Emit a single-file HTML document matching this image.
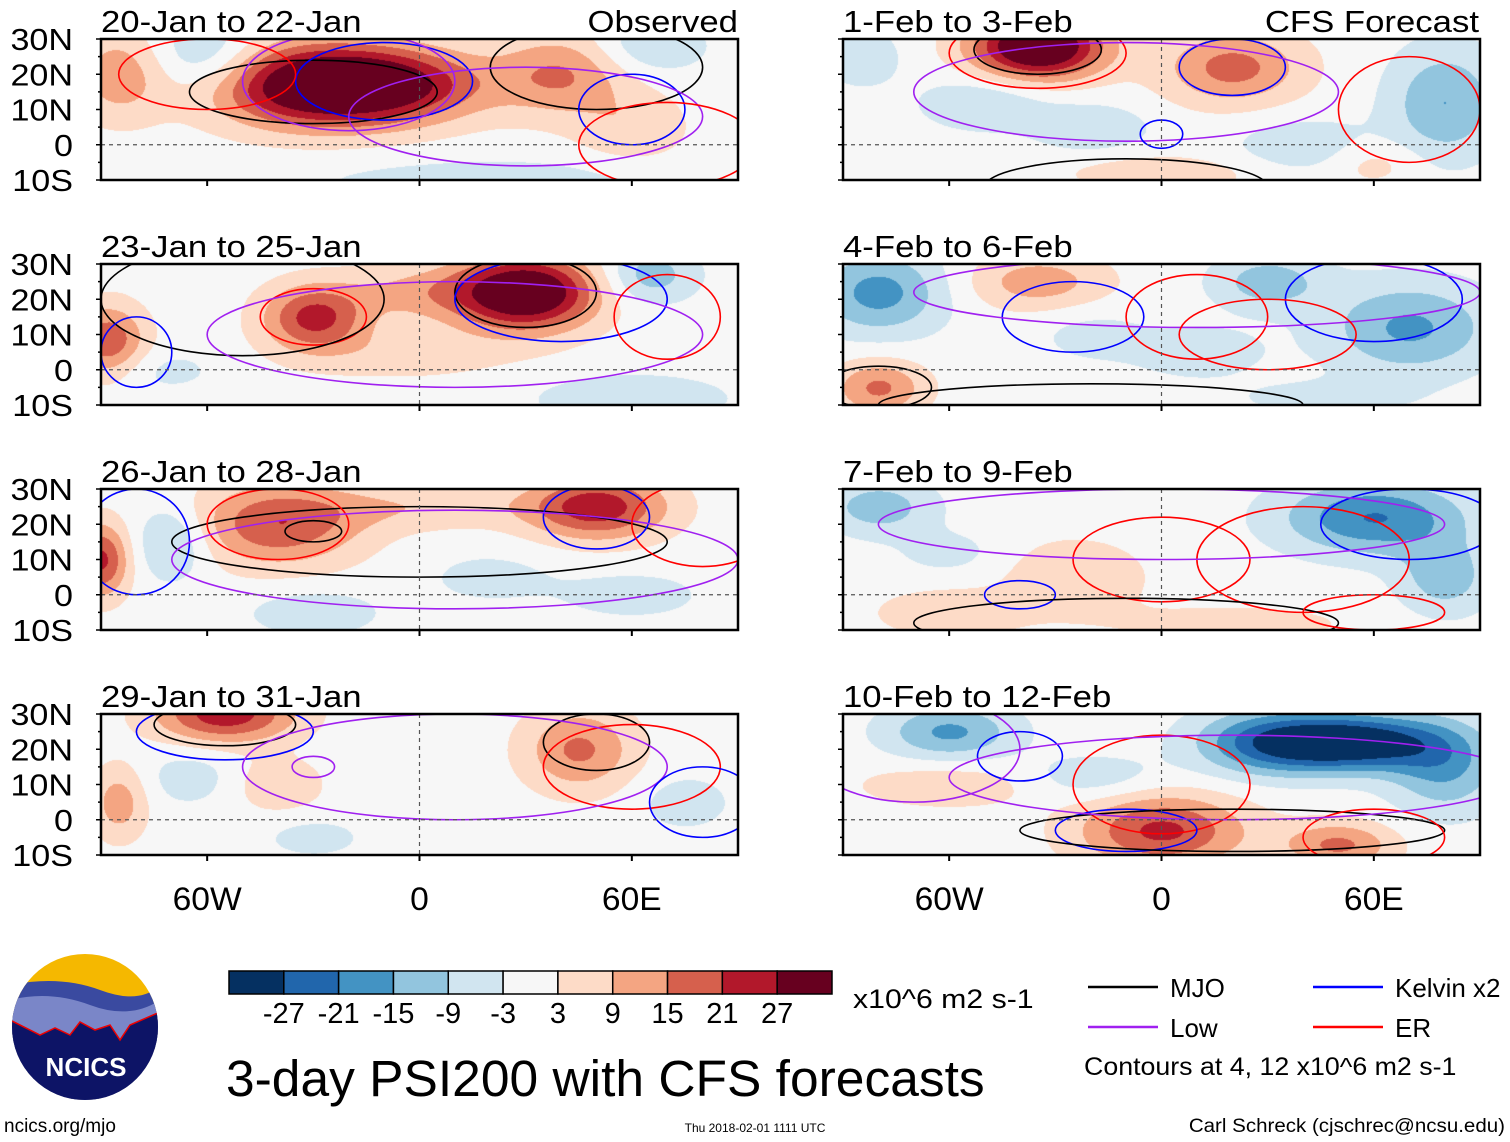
<!DOCTYPE html>
<html><head><meta charset="utf-8"><style>
body{margin:0;background:#fff;}
#wrap{position:relative;width:1510px;height:1142px;overflow:hidden;font-family:"Liberation Sans",sans-serif;}
canvas,svg{position:absolute;left:0;top:0;}
</style></head><body>
<div id="wrap">
<canvas id="cv" width="1510" height="1142"></canvas>
<svg id="sv" width="1510" height="1142" xmlns="http://www.w3.org/2000/svg"></svg>
</div>
<script>
// ---- data ----
const panelTitles = ["20-Jan to 22-Jan","23-Jan to 25-Jan","26-Jan to 28-Jan","29-Jan to 31-Jan","1-Feb to 3-Feb","4-Feb to 6-Feb","7-Feb to 9-Feb","10-Feb to 12-Feb"];
const latTicks = [30,20,10,0,-10];
const latLabels = ["30N","20N","10N","0","10S"];
const lonTicks = [-60,0,60];
const lonLabels = ["60W","0","60E"];
const levels = [-27,-21,-15,-9,-3,3,9,15,21,27];
const levelColors = ["#053061","#2166ac","#4393c3","#92c5de","#d1e5f0","#f7f7f7","#fddbc7","#f4a582","#d6604d","#b2182b","#67001f"];
// anomaly blobs per panel: [lon, lat, value, rlon, rlat]
const blobs = [
 [[-30,17,28,22,9],[-5,17,16,20,8],[-85,20,10,10,10],[-60,25,-9,12,8],[40,20,12,14,9],[65,28,-7,12,6],[20,-10,-5,40,5],[60,5,6,12,8]],
 [[30,22,30,15,8],[-30,15,18,11,7],[-88,8,16,8,8],[0,22,8,18,6],[65,27,-10,10,6],[60,-8,-7,20,5],[-75,0,-4,15,5],[-5,5,5,25,6]],
 [[-40,20,16,18,9],[50,25,20,15,7],[-90,10,18,6,8],[-70,15,-9,8,8],[-30,-5,-6,14,5],[0,25,6,25,5],[20,5,-4,15,6],[60,0,-5,15,5]],
 [[-55,30,20,15,6],[-85,5,10,6,8],[45,20,13,12,9],[-30,-5,-5,10,4],[75,5,-5,10,6],[-65,12,-5,10,6],[-40,10,6,10,6]],
 [[-35,28,32,14,7],[20,22,14,15,8],[80,12,-12,12,12],[-50,12,-7,14,6],[-20,5,-7,12,5],[-85,25,-7,8,6],[40,0,-6,15,6],[0,-8,6,20,4],[60,-5,5,10,5]],
 [[-80,22,-14,14,9],[-35,25,10,15,6],[70,12,-13,18,10],[30,25,-10,12,6],[-80,-5,13,10,6],[10,5,-5,15,6],[-20,10,-4,12,6],[45,-8,-4,20,4]],
 [[60,22,-17,20,8],[-80,25,-10,12,6],[80,5,-10,10,8],[-25,5,7,15,8],[-60,-5,7,15,5],[20,-8,5,25,4],[-60,12,-4,12,5]],
 [[55,22,-26,18,6],[30,22,-17,16,7],[-60,25,-13,14,6],[80,15,-12,12,10],[0,-3,18,18,8],[50,-7,13,12,5],[-60,10,6,20,5],[-20,12,-6,15,5]]
];
// contours per panel: [lon, lat, rlon, rlat, type]  type: 0 MJO,1 Kelvin,2 Low,3 ER
const contours = [
 [[-30,15,35,9,0],[-10,18,25,11,1],[-20,18,30,14,2],[-60,20,25,10,3],[50,22,30,12,0],[60,10,15,10,1],[30,8,50,14,2],[70,0,25,12,3]],
 [[30,22,20,10,0],[-30,15,15,8,3],[-50,20,40,16,0],[40,20,30,12,1],[10,10,70,15,2],[70,15,15,12,3],[-80,5,10,10,1]],
 [[0,15,70,10,0],[-40,20,20,10,3],[50,22,15,9,1],[-80,15,15,15,1],[10,10,80,14,2],[80,20,20,12,3],[-30,18,8,3,0]],
 [[-55,27,20,6,0],[-55,25,25,8,1],[50,22,15,8,0],[60,15,25,12,3],[10,15,60,15,2],[-30,15,6,3,2],[80,5,15,10,1]],
 [[-35,26,25,10,3],[-35,27,18,7,0],[20,22,15,8,1],[-10,15,60,14,2],[0,3,6,4,1],[-10,-12,40,8,0],[70,10,20,15,3]],
 [[-25,15,20,10,1],[10,15,20,12,3],[60,20,25,12,1],[10,22,80,10,2],[30,10,25,10,3],[-80,-5,15,6,0],[-20,-10,60,6,0]],
 [[0,10,25,12,3],[40,10,30,15,3],[70,20,25,10,1],[-40,0,10,4,1],[0,20,80,10,2],[-10,-8,60,7,0],[60,-5,20,5,3]],
 [[0,10,25,14,3],[-40,18,12,7,1],[-70,20,30,15,2],[-10,-3,20,6,1],[20,-3,60,6,0],[60,-5,20,8,3],[20,12,80,12,2]]
];
// ---- layout ----
const colX=[101,843], rowY=[39,264,489,714], PW=637, PH=141;
const AMP=1.25, RAD=1.3;
const typeColors=["#000","#0000ff","#a020f0","#ff0000"];
function panelPos(i){return {x:colX[i<4?0:1], y:rowY[i%4]};}
function xs(p,lon){return p.x+(lon+90)/180*PW;}
function ys(p,lat){return p.y+(30-lat)/40*PH;}
function colorFor(v){let k=0;while(k<levels.length&&v>=levels[k])k++;return levelColors[k];}
// shading
const ctx=document.getElementById('cv').getContext('2d');
for(let i=0;i<8;i++){
  const p=panelPos(i);
  const img=ctx.createImageData(PW,PH);
  for(let py=0;py<PH;py++){
    const lat=30-py/PH*40;
    for(let px=0;px<PW;px++){
      const lon=-90+px/PW*180;
      let v=0;
      for(const b of blobs[i]){const dx=(lon-b[0])/(b[3]*RAD),dy=(lat-b[1])/(b[4]*RAD);v+=AMP*b[2]*Math.exp(-(dx*dx+dy*dy));}
      const c=colorFor(v);
      const o=(py*PW+px)*4;
      img.data[o]=parseInt(c.substr(1,2),16);img.data[o+1]=parseInt(c.substr(3,2),16);img.data[o+2]=parseInt(c.substr(5,2),16);img.data[o+3]=255;
    }
  }
  ctx.putImageData(img,p.x,p.y);
}
const sv=document.getElementById('sv');
const NS="http://www.w3.org/2000/svg";
function mk(tag,attrs,parent){const e=document.createElementNS(NS,tag);for(const k in attrs)e.setAttribute(k,attrs[k]);(parent||sv).appendChild(e);return e;}
function txt(s,attrs,parent){const e=mk('text',attrs,parent);e.textContent=s;return e;}
function widen(e,f){const w=e.getComputedTextLength();e.setAttribute('textLength',w*f);e.setAttribute('lengthAdjust','spacingAndGlyphs');}
for(let i=0;i<8;i++){
  const p=panelPos(i);
  const g=mk('g',{});
  
  
  const cp=mk('clipPath',{id:'cp'+i},g);mk('rect',{x:p.x,y:p.y,width:PW,height:PH},cp);
  const cg=mk('g',{'clip-path':'url(#cp'+i+')'},g);
  for(const c of contours[i]){
    const e=mk('ellipse',{cx:xs(p,c[0]),cy:ys(p,c[1]),rx:c[2]/180*PW,ry:c[3]/40*PH,fill:'none',stroke:typeColors[c[4]],'stroke-width':1.6},cg);
    
    
  }
  mk('line',{x1:p.x,x2:p.x+PW,y1:ys(p,0),y2:ys(p,0),stroke:'#555','stroke-dasharray':'4,4','stroke-width':1.2},g);
  mk('line',{x1:xs(p,0),x2:xs(p,0),y1:p.y,y2:p.y+PH,stroke:'#555','stroke-dasharray':'4,4','stroke-width':1.2},g);
  mk('rect',{x:p.x,y:p.y,width:PW,height:PH,fill:'none',stroke:'#000','stroke-width':2.5},g);
  for(const lt of lonTicks){mk('line',{x1:xs(p,lt),x2:xs(p,lt),y1:p.y+PH,y2:p.y+PH+6,stroke:'#000','stroke-width':2},g);}
  for(let l=-10;l<=30;l+=5){mk('line',{x1:p.x,x2:p.x-(l%10==0?5:3),y1:ys(p,l),y2:ys(p,l),stroke:'#000','stroke-width':1.5},g);}
  const t=txt(panelTitles[i],{x:p.x,y:p.y-7,'font-size':31,fill:'#000'},g);
  
  
  widen(t,1.12);
  if(i<4){latTicks.forEach((l,k)=>{const e=txt(latLabels[k],{x:73,y:ys(p,l)+11,'font-size':31,'text-anchor':'end'},g);widen(e,1.1);});}
  if(i%4==3){lonTicks.forEach((l,k)=>{const e=txt(lonLabels[k],{x:xs(p,l),y:910,'font-size':32,'text-anchor':'middle'},g);widen(e,1.05);});}
}
let e=txt("Observed",{x:738,y:32,'font-size':31,'text-anchor':'end'});widen(e,1.12);
e=txt("CFS Forecast",{x:1479,y:32,'font-size':31,'text-anchor':'end'});widen(e,1.12);
// colorbar
const cbg=mk('g',{});
const cbW=(832-229)/levelColors.length;
levelColors.forEach((c,k)=>{mk('rect',{x:229+k*cbW,y:971,width:cbW,height:23,fill:c,stroke:'#000','stroke-width':1.5},cbg);});
levels.forEach((l,k)=>{txt(String(l),{x:229+(k+1)*cbW,y:1023,'font-size':29,'text-anchor':'middle'},cbg);});
e=txt("x10^6 m2 s-1",{x:853,y:1008,'font-size':27},cbg);widen(e,1.12);
e=txt("3-day PSI200 with CFS forecasts",{x:226,y:1096,'font-size':51});widen(e,1.01);
// legend
const lg=mk('g',{});
[["MJO",1088,987,0],["Kelvin x2",1313,987,1],["Low",1088,1027,2],["ER",1313,1027,3]].forEach(r=>{
  mk('line',{x1:r[1],x2:r[1]+70,y1:r[2],y2:r[2],stroke:typeColors[r[3]],'stroke-width':2.5},lg);
  txt(r[0],{x:r[1]+82,y:r[2]+10,'font-size':26},lg);
});
e=txt("Contours at 4, 12 x10^6 m2 s-1",{x:1084,y:1075,'font-size':25},lg);widen(e,1.07);
e=txt("Carl Schreck (cjschrec@ncsu.edu)",{x:1505,y:1132,'font-size':19,'text-anchor':'end'});widen(e,1.08);
txt("ncics.org/mjo",{x:4,y:1132,'font-size':19});
txt("Thu 2018-02-01 1111 UTC",{x:755,y:1132,'font-size':12,'text-anchor':'middle'});
// logo
const lo=mk('g',{});
mk('clipPath',{id:'lc'},lo);mk('circle',{cx:85,cy:1027,r:73},document.getElementById('lc'));
const lgc=mk('g',{'clip-path':'url(#lc)'},lo);
mk('rect',{x:10,y:950,width:150,height:160,fill:'#f5b800'},lgc);
mk('path',{d:'M10 985 Q60 975 100 990 T160 985 L160 1110 L10 1110Z',fill:'#3a4aa0'},lgc);
mk('path',{d:'M10 1000 Q50 990 90 1005 T160 1000 L160 1110 L10 1110Z',fill:'#7a86c8'},lgc);
mk('path',{d:'M10 1020 L40 1035 L55 1028 L70 1035 L80 1022 L95 1030 L110 1025 L120 1040 L130 1025 L160 1012 L160 1110 L10 1110Z',fill:'#0d1466',stroke:'#e00','stroke-width':1.5},lgc);
txt("NCICS",{x:86,y:1076,'font-size':26,'font-weight':'bold',fill:'#fff','text-anchor':'middle'},lo);
</script>
</body></html>
